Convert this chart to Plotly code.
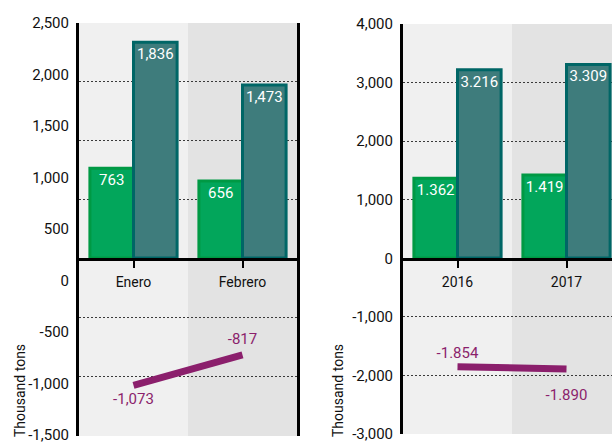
import plotly.graph_objects as go

# ---- data ----
left_categories = ["Enero", "Febrero"]
left_green = [763, 656]
left_teal = [1836, 1473]
left_line = [-1073, -817]
left_ticks = list(range(-1500, 2501, 500))

right_categories = ["2016", "2017"]
right_green = [1362, 1419]
right_teal = [3216, 3309]
right_line = [-1854, -1890]
right_ticks = list(range(-3000, 4001, 1000))

FONT = "Roboto, sans-serif"
GREEN_FILL = "#02a65b"
GREEN_LINE = "#009944"
TEAL_FILL = "#3e7c7c"
TEAL_LINE = "#006666"
PURPLE = "#8b1f6c"
BG1 = "#f0f0f0"
BG2 = "#e3e3e3"


def fmt_comma(v):
    return f"{v:,}"


def fmt_dot(v):
    return f"{v:,}".replace(",", ".")


fig = go.Figure()


def add_panel(xa, ya_top, ya_bot, ya_lab, cats, green, teal, line, fmt, line_pos, pad):
    for vals, fill, edge in ((green, GREEN_FILL, GREEN_LINE), (teal, TEAL_FILL, TEAL_LINE)):
        fig.add_trace(go.Bar(
            x=cats, y=vals, xaxis=xa, yaxis=ya_top,
            marker=dict(color=fill, line=dict(color=edge, width=3)),
            text=[fmt(v) for v in vals], textposition="inside", insidetextanchor="end",
            textangle=0, textfont=dict(color="white", size=15, family=FONT),
            constraintext="none", cliponaxis=False,
            showlegend=False, hoverinfo="skip"))
    fig.add_trace(go.Scatter(
        x=cats, y=line, xaxis=xa, yaxis=ya_bot, mode="lines+markers+text",
        line=dict(color=PURPLE, width=7),
        marker=dict(size=pad, color="rgba(0,0,0,0)",
                    line=dict(width=0, color="rgba(0,0,0,0)")),
        text=[fmt(v) for v in line], textposition=line_pos,
        textfont=dict(color=PURPLE, size=15, family=FONT),
        cliponaxis=False, showlegend=False, hoverinfo="skip"))
    fig.add_trace(go.Scatter(x=[], y=[], xaxis=xa, yaxis=ya_lab,
                             showlegend=False, hoverinfo="skip"))


add_panel("x", "y", "y2", "y3", left_categories, left_green, left_teal, left_line,
          fmt_comma, ["bottom center", "top center"], [11, 10])
add_panel("x2", "y4", "y5", "y6", right_categories, right_green, right_teal, right_line,
          fmt_dot, ["top center", "bottom center"], [6, 30])

grid = dict(showgrid=True, gridcolor="#3a3a3a", gridwidth=1, griddash="2px,2px",
            zeroline=False, showticklabels=False, ticks="", showline=False,
            automargin=False)
xcommon = dict(type="category", showgrid=False, zeroline=False, showline=True,
               linecolor="black", linewidth=3, ticks="outside", ticklen=7,
               tickwidth=2, tickcolor="black", ticklabelstandoff=2, automargin=False,
               tickfont=dict(size=14, family=FONT, color="#111"))
labcommon = dict(showgrid=False, zeroline=False, showline=True, linecolor="black",
                 linewidth=3, ticks="", automargin=False, ticklabeloverflow="allow",
                 tickfont=dict(size=15, family=FONT, color="#111"),
                 ticklabelstandoff=4)

LX = [79 / 612, 297 / 612]
RX = [403 / 612, 1.0]

fig.update_layout(
    width=612, height=443, autosize=False,
    margin=dict(l=0, r=0, t=0, b=0, pad=0),
    paper_bgcolor="white", plot_bgcolor="rgba(0,0,0,0)",
    barmode="group", bargap=0.2, bargroupgap=0,
    font=dict(family=FONT, size=15, color="#111"),
    xaxis=dict(domain=LX, anchor="y", range=[-0.5, 1.5], **xcommon),
    yaxis=dict(domain=[185 / 443, 420 / 443], anchor="x", range=[0, 2000], dtick=500, **grid),
    yaxis2=dict(domain=[7 / 443, 185 / 443], anchor="x", range=[-1500, 0], dtick=500, **grid),
    yaxis3=dict(domain=[7 / 443, 420 / 443], anchor="x", range=[-1510, 2500],
                tickvals=left_ticks, ticktext=[fmt_comma(v) for v in left_ticks],
                mirror=True, **labcommon),
    xaxis2=dict(domain=RX, anchor="y4", range=[-0.5, -0.5 + 209 / 109], **xcommon),
    yaxis4=dict(domain=[185 / 443, 419 / 443], anchor="x2", range=[0, 4000], dtick=1000, **grid),
    yaxis5=dict(domain=[9 / 443, 185 / 443], anchor="x2", range=[-3000, 0], dtick=1000, **grid),
    yaxis6=dict(domain=[9 / 443, 419 / 443], anchor="x2", range=[-3000, 4000],
                tickvals=right_ticks, ticktext=[fmt_comma(v) for v in right_ticks],
                **labcommon),
)

# two-tone category backgrounds
for xa, ylab in (("x", "y3"), ("x2", "y6")):
    for i, col in enumerate((BG1, BG2)):
        fig.add_shape(type="rect", xref=xa, yref=f"{ylab} domain",
                      x0=i - 0.5, x1=i + 0.5, y0=0, y1=1,
                      fillcolor=col, line=dict(width=0), layer="below")

# axis titles
for xpx in (20, 338):
    fig.add_annotation(text="Thousand tons", xref="paper", yref="paper",
                       x=xpx / 612, y=(443 - 391) / 443, textangle=-90,
                       showarrow=False, font=dict(size=14, family=FONT, color="#111"),
                       xanchor="center", yanchor="middle")

fig.write_html("out.html", config={"displayModeBar": False},
               post_script="document.body.style.margin='0';document.body.style.overflow='hidden';")
